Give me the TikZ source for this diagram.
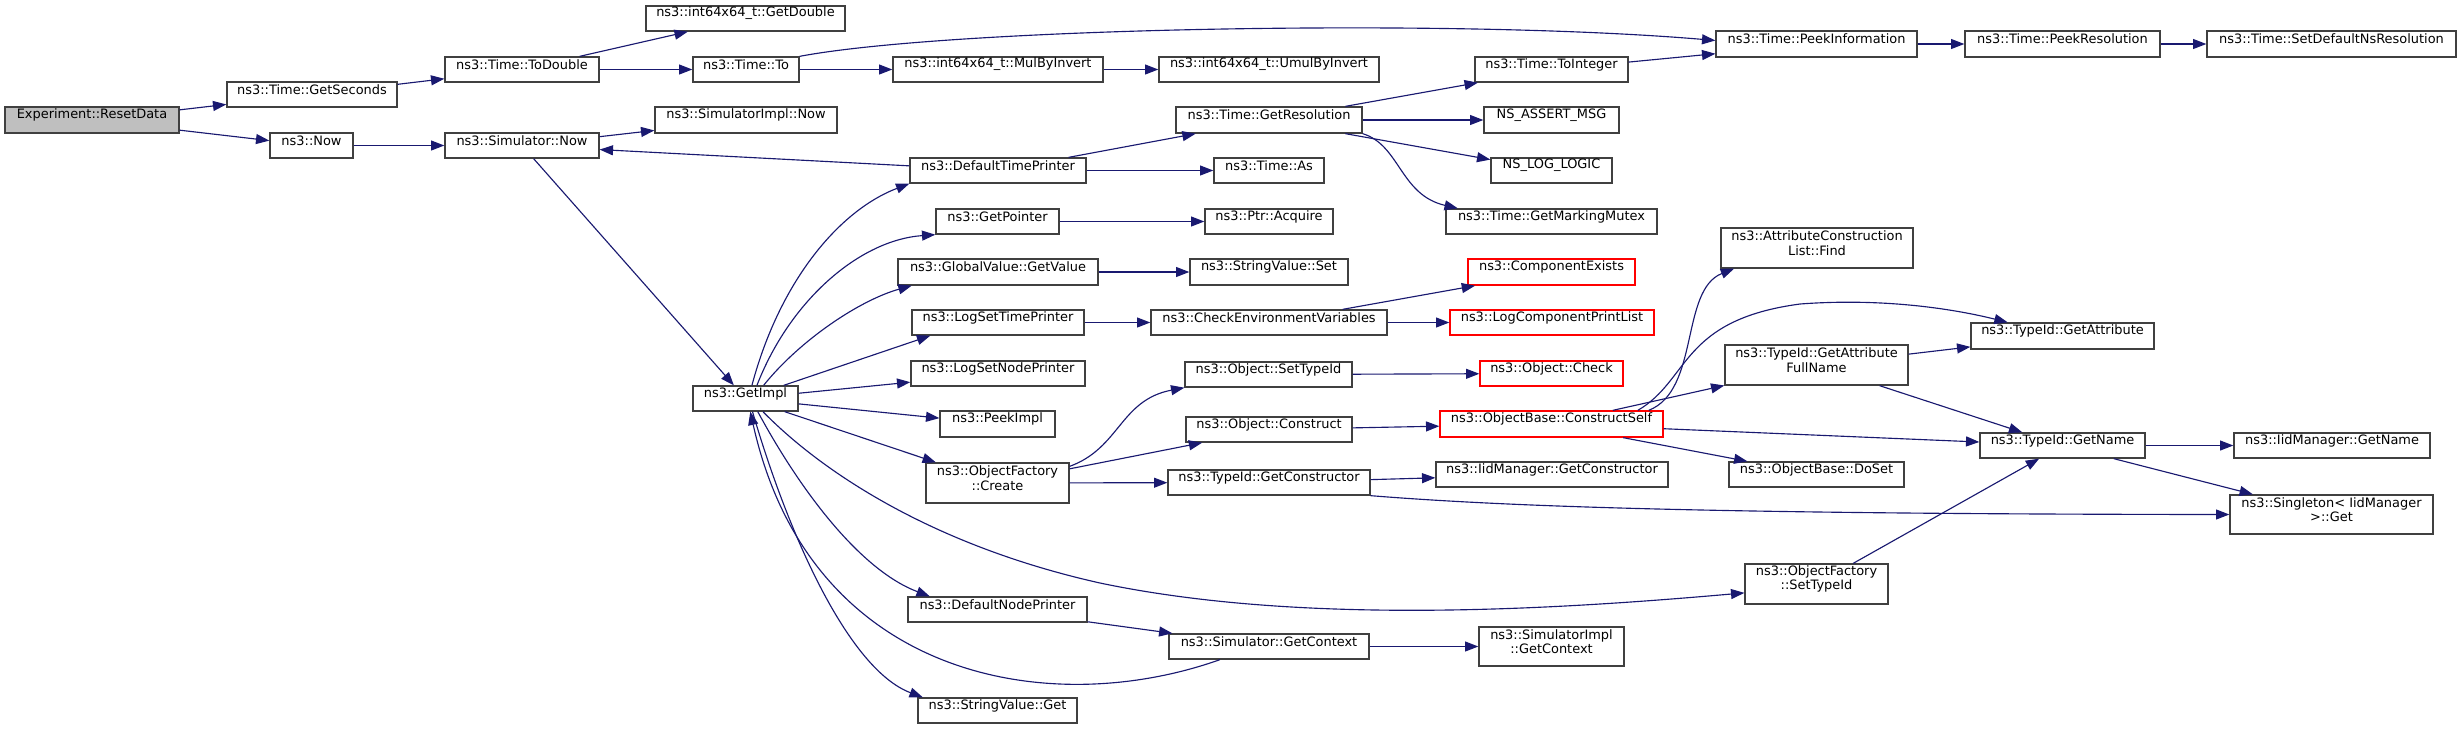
\documentclass[tikz,border=0pt]{standalone}
\usepackage{fontspec}
\setmainfont{DejaVu Sans}
\usetikzlibrary{arrows.meta, fit}

\definecolor{edgeblue}{HTML}{191970}
\definecolor{boxgray}{HTML}{404040}
\definecolor{rootgray}{HTML}{BFBFBF}

\begin{document}
\begin{tikzpicture}[x=0.75pt, y=-0.75pt,
    fn/.style={draw=boxgray, line width=1pt, fill=white, inner sep=0pt,
        align=center, font=\fontsize{9.7}{10.8}\selectfont},
    root/.style={fn, fill=rootgray},
    cut/.style={fn, draw=red},
    call/.style={draw=edgeblue, line width=0.85pt,
        -{Triangle[length=10pt, width=7.5pt]}}]
    \useasboundingbox (0,0) rectangle (2461,729);

    % 第一列
    \node[root, fit={(5,107) (179,133)}] (resetdata) {Experiment::ResetData};
    \node[fn, fit={(227,82) (397,107)}] (getseconds) {ns3::Time::GetSeconds};
    \node[fn, fit={(270,133) (353,158)}] (now) {ns3::Now};
    \node[fn, fit={(445,57) (599,82)}] (todouble) {ns3::Time::ToDouble};
    \node[fn, fit={(445,133) (599,158)}] (simnow) {ns3::Simulator::Now};
    \node[fn, fit={(693,386) (798,411)}] (getimpl) {ns3::GetImpl};

    % 第二列
    \node[fn, fit={(646,6) (845,31)}] (getdouble) {ns3::int64x64\_t::GetDouble};
    \node[fn, fit={(693,57) (799,82)}] (timeto) {ns3::Time::To};
    \node[fn, fit={(655,107) (837,133)}] (simimplnow) {ns3::SimulatorImpl::Now};
    \node[fn, fit={(893,57) (1103,82)}] (mulbyinvert) {ns3::int64x64\_t::MulByInvert};
    \node[fn, fit={(910,158) (1086,183)}] (timeprinter) {ns3::DefaultTimePrinter};
    \node[fn, fit={(936,209) (1059,234)}] (getpointer) {ns3::GetPointer};
    \node[fn, fit={(898,259) (1098,285)}] (getvalue) {ns3::GlobalValue::GetValue};
    \node[fn, fit={(912,310) (1084,335)}] (settimeprinter) {ns3::LogSetTimePrinter};
    \node[fn, fit={(911,361) (1085,386)}] (setnodeprinter) {ns3::LogSetNodePrinter};
    \node[fn, fit={(940,411) (1055,437)}] (peekimpl) {ns3::PeekImpl};
    \node[fn, fit={(926,463) (1069,503)}] (create) {ns3::ObjectFactory\\::Create};
    \node[fn, fit={(908,597) (1087,622)}] (nodeprinter) {ns3::DefaultNodePrinter};
    \node[fn, fit={(918,698) (1077,723)}] (svget) {ns3::StringValue::Get};

    % 第三列
    \node[fn, fit={(1159,57) (1379,82)}] (umulbyinvert) {ns3::int64x64\_t::UmulByInvert};
    \node[fn, fit={(1176,107) (1362,133)}] (getresolution) {ns3::Time::GetResolution};
    \node[fn, fit={(1214,158) (1324,183)}] (timeas) {ns3::Time::As};
    \node[fn, fit={(1205,209) (1333,234)}] (acquire) {ns3::Ptr::Acquire};
    \node[fn, fit={(1190,259) (1348,285)}] (svset) {ns3::StringValue::Set};
    \node[fn, fit={(1151,310) (1387,335)}] (checkenv) {ns3::CheckEnvironmentVariables};
    \node[fn, fit={(1185,362) (1352,387)}] (objsettypeid) {ns3::Object::SetTypeId};
    \node[fn, fit={(1186,417) (1352,442)}] (construct) {ns3::Object::Construct};
    \node[fn, fit={(1168,470) (1370,495)}] (getconstructor) {ns3::TypeId::GetConstructor};
    \node[fn, fit={(1169,634) (1369,659)}] (getcontext) {ns3::Simulator::GetContext};

    % 第四列
    \node[fn, fit={(1475,57) (1628,82)}] (tointeger) {ns3::Time::ToInteger};
    \node[fn, fit={(1484,107) (1619,133)}] (nsassert) {NS\_ASSERT\_MSG};
    \node[fn, fit={(1491,158) (1612,183)}] (nslog) {NS\_LOG\_LOGIC};
    \node[fn, fit={(1446,209) (1657,234)}] (markingmutex) {ns3::Time::GetMarkingMutex};
    \node[cut, fit={(1468,259) (1635,285)}] (compexists) {ns3::ComponentExists};
    \node[cut, fit={(1450,310) (1654,335)}] (printlist) {ns3::LogComponentPrintList};
    \node[cut, fit={(1480,361) (1623,386)}] (objcheck) {ns3::Object::Check};
    \node[cut, fit={(1440,411) (1663,437)}] (constructself) {ns3::ObjectBase::ConstructSelf};
    \node[fn, fit={(1436,462) (1668,487)}] (iidconstructor) {ns3::IidManager::GetConstructor};
    \node[fn, fit={(1479,627) (1624,666)}] (implcontext) {ns3::SimulatorImpl\\::GetContext};

    % 第五列及以后
    \node[fn, fit={(1716,31) (1917,57)}] (peekinfo) {ns3::Time::PeekInformation};
    \node[fn, fit={(1721,228) (1913,268)}] (attrfind) {ns3::AttributeConstruction\\List::Find};
    \node[fn, fit={(1725,345) (1908,385)}] (fullname) {ns3::TypeId::GetAttribute\\FullName};
    \node[fn, fit={(1729,462) (1904,487)}] (doset) {ns3::ObjectBase::DoSet};
    \node[fn, fit={(1745,564) (1888,604)}] (factsettypeid) {ns3::ObjectFactory\\::SetTypeId};
    \node[fn, fit={(1965,31) (2160,57)}] (peekres) {ns3::Time::PeekResolution};
    \node[fn, fit={(2207,31) (2456,57)}] (setdefault) {ns3::Time::SetDefaultNsResolution};
    \node[fn, fit={(1971,323) (2154,349)}] (getattribute) {ns3::TypeId::GetAttribute};
    \node[fn, fit={(1980,433) (2145,458)}] (getname) {ns3::TypeId::GetName};
    \node[fn, fit={(2234,433) (2430,458)}] (iidgetname) {ns3::IidManager::GetName};
    \node[fn, fit={(2230,495) (2433,534)}] (singleton) {ns3::Singleton< IidManager\\>::Get};

    % 直线调用
    \draw[call] (resetdata) -- (getseconds);
    \draw[call] (resetdata) -- (now);
    \draw[call] (getseconds) -- (todouble);
    \draw[call] (todouble) -- (getdouble);
    \draw[call] (todouble) -- (timeto);
    \draw[call] (timeto) -- (mulbyinvert);
    \draw[call] (mulbyinvert) -- (umulbyinvert);
    \draw[call] (now) -- (simnow);
    \draw[call] (simnow) -- (simimplnow);
    \draw[call] (simnow) -- (getimpl);
    \draw[call] (timeprinter) -- (simnow);
    \draw[call] (timeprinter) -- (getresolution);
    \draw[call] (timeprinter) -- (timeas);
    \draw[call] (getresolution) -- (tointeger);
    \draw[call] (getresolution) -- (nsassert);
    \draw[call] (getresolution) -- (nslog);
    \draw[call] (tointeger) -- (peekinfo);
    \draw[call] (peekinfo) -- (peekres);
    \draw[call] (peekres) -- (setdefault);
    \draw[call] (getpointer) -- (acquire);
    \draw[call] (getvalue) -- (svset);
    \draw[call] (settimeprinter) -- (checkenv);
    \draw[call] (checkenv) -- (compexists);
    \draw[call] (checkenv) -- (printlist);
    \draw[call] (getimpl.19) -- (settimeprinter.191);
    \draw[call] (getimpl) -- (setnodeprinter);
    \draw[call] (getimpl) -- (peekimpl);
    \draw[call] (getimpl) -- (create);
    \draw[call] (create) -- (construct);
    \draw[call] (create) -- (getconstructor);
    \draw[call] (objsettypeid) -- (objcheck);
    \draw[call] (construct) -- (constructself);
    \draw[call] (getconstructor) -- (iidconstructor);
    \draw[call] (constructself) -- (fullname);
    \draw[call] (constructself) -- (getname);
    \draw[call] (constructself) -- (doset);
    \draw[call] (fullname) -- (getattribute);
    \draw[call] (fullname) -- (getname);
    \draw[call] (factsettypeid) -- (getname);
    \draw[call] (getname) -- (iidgetname);
    \draw[call] (getname) -- (singleton);
    \draw[call] (nodeprinter) -- (getcontext);
    \draw[call] (getcontext) -- (implcontext);

    % 曲线调用
    \draw[call] (timeto.north east) .. controls (950,28) and (1450,18) .. (peekinfo.178);
    \draw[call] (getresolution.south east) .. controls (1400,145) and (1400,195) .. (markingmutex.172);
    \draw[call] (getimpl.64) .. controls (780,280) and (840,210) .. (timeprinter.south west);
    \draw[call] (getimpl.49) .. controls (790,300) and (860,240) .. (getpointer.south west);
    \draw[call] (getimpl.36) .. controls (800,340) and (860,300) .. (getvalue.189);
    \draw[call] (getimpl.-47) .. controls (800,490) and (860,570) .. (nodeprinter.169);
    \draw[call] (getimpl.-62) .. controls (790,540) and (850,670) .. (svget.170);
    \draw[call] (getimpl.-37) .. controls (820,470) and (930,545) .. (1100,583)
        .. controls (1300,625) and (1550,610) .. (factsettypeid.187);
    \draw[call] (getcontext.195) .. controls (1050,720) and (810,680) .. (getimpl.-70);
    \draw[call] (create.13) .. controls (1120,448) and (1120,400) .. (objsettypeid.south west);
    \draw[call] (getconstructor.south east) .. controls (1500,506) and (1700,514) .. (singleton.west);
    \draw[call] (constructself.8) .. controls (1700,390) and (1680,290) .. (attrfind.194);
    \draw[call] (constructself.9) .. controls (1690,380) and (1680,320) .. (1800,304)
        .. controls (1880,298) and (1950,308) .. (getattribute.166);
\end{tikzpicture}
\end{document}
